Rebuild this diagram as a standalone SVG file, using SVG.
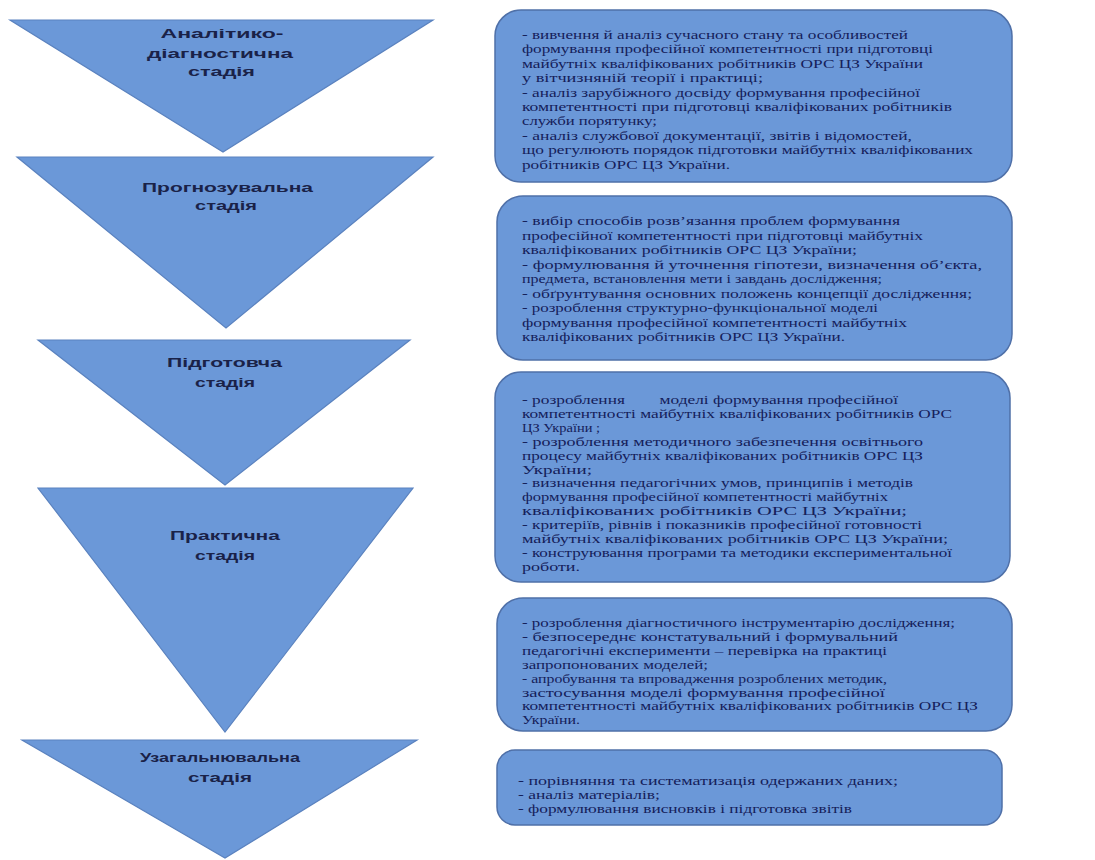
<svg xmlns="http://www.w3.org/2000/svg" width="1095" height="860" viewBox="0 0 1095 860">
<style>
.tri{fill:#6b98d8;stroke:#5a82bf;stroke-width:1.2}
.box{fill:#6b98d8;stroke:#4f70a8;stroke-width:1.5}
.lbl{font-family:"Liberation Sans",Arial,sans-serif;font-size:12.5px;font-weight:bold;fill:#1a2248;text-anchor:middle}
.txt{font-family:"Liberation Serif","Times New Roman",serif;font-size:12px;fill:#15205a}
</style>
<rect width="1095" height="860" fill="#ffffff"/>
<g id="connectors"/>
<g id="stage1">
<polygon class="tri" points="10,20 433,20 223,152"/>
<text class="lbl" x="222" y="37.5" textLength="123" lengthAdjust="spacingAndGlyphs">Аналітико-</text>
<text class="lbl" x="220" y="57.5" textLength="146" lengthAdjust="spacingAndGlyphs">діагностична</text>
<text class="lbl" x="221.5" y="75.5" textLength="67" lengthAdjust="spacingAndGlyphs">стадія</text>
</g>
<g id="stage2">
<polygon class="tri" points="17,157 433,157 226,328"/>
<text class="lbl" x="227.5" y="191.5" textLength="171" lengthAdjust="spacingAndGlyphs">Прогнозувальна</text>
<text class="lbl" x="226" y="209.5" textLength="62" lengthAdjust="spacingAndGlyphs">стадія</text>
</g>
<g id="stage3">
<polygon class="tri" points="38,340 410,340 225,485"/>
<text class="lbl" x="224.5" y="366.5" textLength="115" lengthAdjust="spacingAndGlyphs">Підготовча</text>
<text class="lbl" x="225" y="386.5" textLength="60" lengthAdjust="spacingAndGlyphs">стадія</text>
</g>
<g id="stage4">
<polygon class="tri" points="38,488 413,488 225,732"/>
<text class="lbl" x="225" y="539.5" textLength="110" lengthAdjust="spacingAndGlyphs">Практична</text>
<text class="lbl" x="225" y="559.5" textLength="60" lengthAdjust="spacingAndGlyphs">стадія</text>
</g>
<g id="stage5">
<polygon class="tri" points="22,740 417,740 225,858"/>
<text class="lbl" x="220" y="761.5" textLength="160" lengthAdjust="spacingAndGlyphs">Узагальнювальна</text>
<text class="lbl" x="220" y="781.5" textLength="64" lengthAdjust="spacingAndGlyphs">стадія</text>
</g>
<g id="box1">
<rect class="box" x="495" y="10" width="517" height="172" rx="26"/>
<text class="txt" x="522" y="39" textLength="386" lengthAdjust="spacingAndGlyphs">- вивчення й аналіз сучасного стану та особливостей</text>
<text class="txt" x="522" y="53.4" textLength="411" lengthAdjust="spacingAndGlyphs">формування професійної компетентності при підготовці</text>
<text class="txt" x="522" y="67.8" textLength="401" lengthAdjust="spacingAndGlyphs">майбутніх кваліфікованих робітників ОРС ЦЗ України</text>
<text class="txt" x="522" y="82.2" textLength="241" lengthAdjust="spacingAndGlyphs">у вітчизняній теорії і практиці;</text>
<text class="txt" x="522" y="96.6" textLength="398" lengthAdjust="spacingAndGlyphs">- аналіз зарубіжного досвіду формування професійної</text>
<text class="txt" x="522" y="111" textLength="430" lengthAdjust="spacingAndGlyphs">компетентності при підготовці кваліфікованих робітників</text>
<text class="txt" x="522" y="125.4" textLength="135" lengthAdjust="spacingAndGlyphs">служби порятунку;</text>
<text class="txt" x="522" y="139.8" textLength="390" lengthAdjust="spacingAndGlyphs">- аналіз службової документації, звітів і відомостей,</text>
<text class="txt" x="522" y="154.2" textLength="451" lengthAdjust="spacingAndGlyphs">що регулюють порядок підготовки майбутніх кваліфікованих</text>
<text class="txt" x="522" y="168.6" textLength="208" lengthAdjust="spacingAndGlyphs">робітників ОРС ЦЗ України.</text>
</g>
<g id="box2">
<rect class="box" x="497" y="196" width="515" height="164" rx="26"/>
<text class="txt" x="522" y="225" textLength="378" lengthAdjust="spacingAndGlyphs">- вибір способів розв’язання проблем формування</text>
<text class="txt" x="522" y="239.5" textLength="401" lengthAdjust="spacingAndGlyphs">професійної компетентності при підготовці майбутніх</text>
<text class="txt" x="522" y="254" textLength="335" lengthAdjust="spacingAndGlyphs">кваліфікованих робітників ОРС ЦЗ України;</text>
<text class="txt" x="522" y="268.5" textLength="460" lengthAdjust="spacingAndGlyphs">- формулювання й уточнення гіпотези, визначення об’єкта,</text>
<text class="txt" x="522" y="283" textLength="360" lengthAdjust="spacingAndGlyphs">предмета, встановлення мети і завдань дослідження;</text>
<text class="txt" x="522" y="297.5" textLength="450" lengthAdjust="spacingAndGlyphs">- обґрунтування основних положень концепції дослідження;</text>
<text class="txt" x="522" y="312" textLength="356" lengthAdjust="spacingAndGlyphs">- розроблення структурно-функціональної моделі</text>
<text class="txt" x="522" y="326.5" textLength="385" lengthAdjust="spacingAndGlyphs">формування професійної компетентності майбутніх</text>
<text class="txt" x="522" y="341" textLength="323" lengthAdjust="spacingAndGlyphs">кваліфікованих робітників ОРС ЦЗ України.</text>
</g>
<g id="box3">
<rect class="box" x="495" y="372" width="515" height="210" rx="26"/>
<text class="txt" x="522" y="404" textLength="376" lengthAdjust="spacingAndGlyphs" xml:space="preserve" style="white-space:pre">- розроблення        моделі формування професійної</text>
<text class="txt" x="522" y="417.9" textLength="430" lengthAdjust="spacingAndGlyphs">компетентності майбутніх кваліфікованих робітників ОРС</text>
<text class="txt" x="522" y="431.8" textLength="78" lengthAdjust="spacingAndGlyphs">ЦЗ України ;</text>
<text class="txt" x="522" y="445.7" textLength="401" lengthAdjust="spacingAndGlyphs">- розроблення методичного забезпечення освітнього</text>
<text class="txt" x="522" y="459.6" textLength="401" lengthAdjust="spacingAndGlyphs">процесу майбутніх кваліфікованих робітників ОРС ЦЗ</text>
<text class="txt" x="522" y="473.5" textLength="70" lengthAdjust="spacingAndGlyphs">України;</text>
<text class="txt" x="522" y="487.4" textLength="391" lengthAdjust="spacingAndGlyphs">- визначення педагогічних умов, принципів і методів</text>
<text class="txt" x="522" y="501.3" textLength="366" lengthAdjust="spacingAndGlyphs">формування професійної компетентності майбутніх</text>
<text class="txt" x="522" y="515.2" textLength="385" lengthAdjust="spacingAndGlyphs">кваліфікованих робітників ОРС ЦЗ України;</text>
<text class="txt" x="522" y="529.1" textLength="400" lengthAdjust="spacingAndGlyphs">- критеріїв, рівнів і показників професійної готовності</text>
<text class="txt" x="522" y="543" textLength="426" lengthAdjust="spacingAndGlyphs">майбутніх кваліфікованих робітників ОРС ЦЗ України;</text>
<text class="txt" x="522" y="556.9" textLength="430" lengthAdjust="spacingAndGlyphs">- конструювання програми та методики експериментальної</text>
<text class="txt" x="522" y="570.8" textLength="58" lengthAdjust="spacingAndGlyphs">роботи.</text>
</g>
<g id="box4">
<rect class="box" x="497" y="598" width="515" height="133" rx="26"/>
<text class="txt" x="522" y="627" textLength="433" lengthAdjust="spacingAndGlyphs">- розроблення діагностичного інструментарію дослідження;</text>
<text class="txt" x="522" y="640.9" textLength="376" lengthAdjust="spacingAndGlyphs">- безпосереднє констатувальний і формувальний</text>
<text class="txt" x="522" y="654.8" textLength="365" lengthAdjust="spacingAndGlyphs">педагогічні експерименти – перевірка на практиці</text>
<text class="txt" x="522" y="668.7" textLength="186" lengthAdjust="spacingAndGlyphs">запропонованих моделей;</text>
<text class="txt" x="522" y="682.6" textLength="365" lengthAdjust="spacingAndGlyphs">- апробування та впровадження розроблених методик,</text>
<text class="txt" x="522" y="696.5" textLength="363" lengthAdjust="spacingAndGlyphs">застосування моделі формування професійної</text>
<text class="txt" x="522" y="710.4" textLength="456" lengthAdjust="spacingAndGlyphs">компетентності майбутніх кваліфікованих робітників ОРС ЦЗ</text>
<text class="txt" x="522" y="724.3" textLength="58" lengthAdjust="spacingAndGlyphs">України.</text>
</g>
<g id="box5">
<rect class="box" x="497" y="750" width="505" height="75" rx="18"/>
<text class="txt" x="518" y="785" textLength="380" lengthAdjust="spacingAndGlyphs">- порівняння та систематизація одержаних даних;</text>
<text class="txt" x="518" y="799" textLength="142" lengthAdjust="spacingAndGlyphs">- аналіз матеріалів;</text>
<text class="txt" x="518" y="813" textLength="334" lengthAdjust="spacingAndGlyphs">- формулювання висновків і підготовка звітів</text>
</g>
</svg>
